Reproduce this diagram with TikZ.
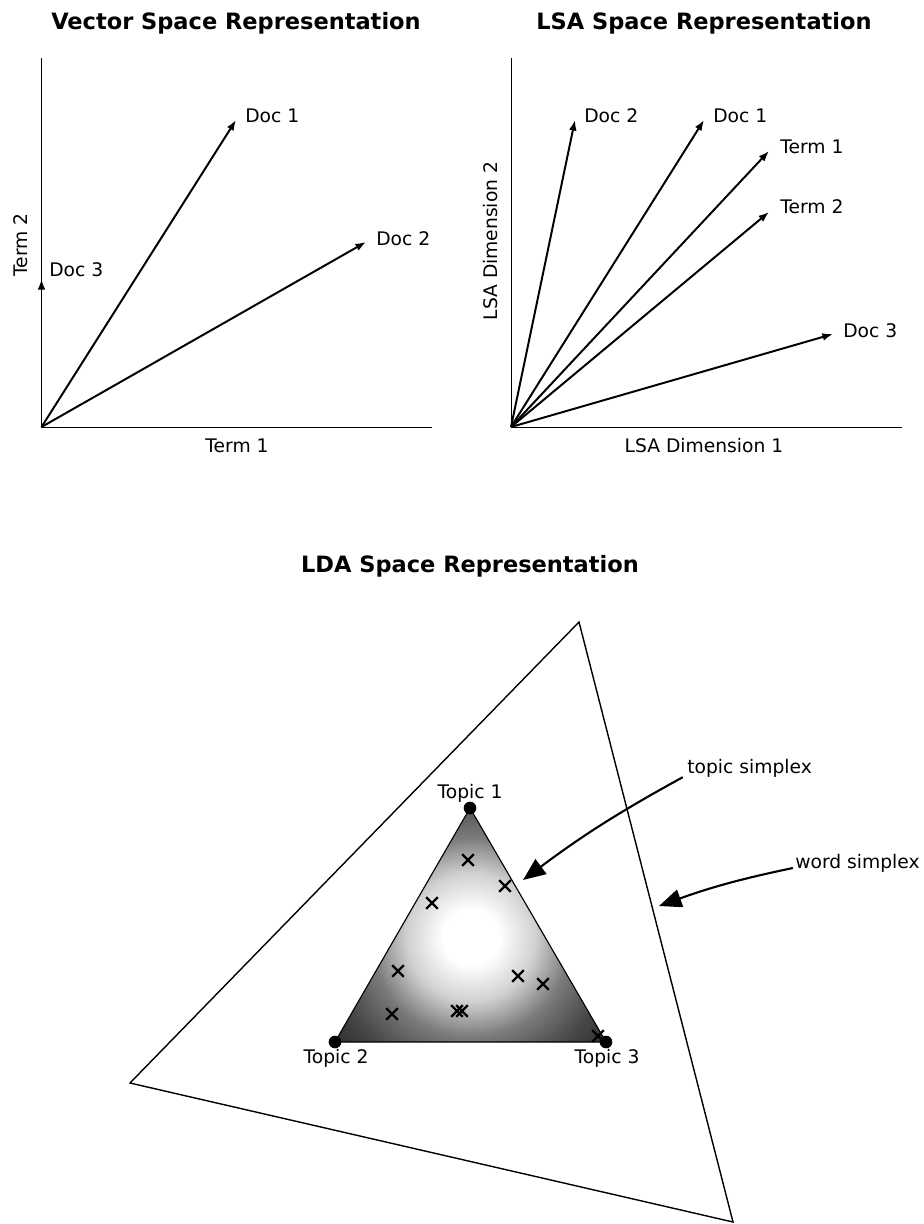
\documentclass[tikz,border=0pt]{standalone}
\usepackage{fontspec}
\setmainfont{DejaVu Sans}
\usetikzlibrary{positioning}
\usetikzlibrary{arrows.meta}
\usetikzlibrary{shapes.misc}

\pgfdeclareradialshading{simplexglow}{\pgfpoint{0bp}{0bp}}{color(0bp)=(white); color(3.5bp)=(white); color(8bp)=(black!18); color(12.5bp)=(black!52); color(17.5bp)=(black!72); color(22.5bp)=(black!84); color(50bp)=(black!85)}

\tikzset{
 lbl/.style={inner sep=0pt,font=\fontsize{13.3}{16}\selectfont},
 ttl/.style={inner sep=0pt,anchor=base,font=\fontsize{16}{19}\selectfont\bfseries},
 axisline/.style={line width=0.7pt},
 vec/.style={line width=1.4pt,-{Latex[length=7.5pt,width=5.5pt]}},
 callout/.style={line width=1.5pt,-{Triangle[length=16pt,width=13pt]}},
 xmark/.style={cross out,draw,line width=1.7pt,minimum size=6.5pt,inner sep=0pt},
 topicdot/.style={circle,fill=black,inner sep=0pt,minimum size=9pt}
}

\begin{document}
\begin{tikzpicture}[x=0.025cm,y=-0.025cm]
 \useasboundingbox (0,0) rectangle (924,1224);

 % vector space
 \node[ttl] (vtitle) at (236,29.5) {Vector Space Representation};
 \coordinate (vo) at (41.5,427);
 \coordinate (vy) at (41.5,58);
 \coordinate (vx) at (432,427);
 \draw[axisline] (vy) -- (vo) -- (vx);
 \node[lbl,anchor=base] (vxl) at (237,452) {Term 1};
 \node[lbl,anchor=base,rotate=90] (vyl) at (27,245) {Term 2};
 \coordinate (vd1) at (236,120);
 \coordinate (vd2) at (366,242);
 \coordinate (vd3) at (41.5,279);
 \draw[vec] (vo) -- (vd1);
 \draw[vec] (vo) -- (vd2);
 \draw[vec] (vo) -- (vd3);
 \node[lbl,anchor=base west] (vd1l) at (245,122) {Doc 1};
 \node[lbl,anchor=base west] (vd2l) at (376,245) {Doc 2};
 \node[lbl,anchor=base west] (vd3l) at (49,276) {Doc 3};

 % lsa space
 \node[ttl] (ltitle) at (704,29.5) {LSA Space Representation};
 \coordinate (lo) at (511,427);
 \coordinate (ly) at (511,58);
 \coordinate (lx) at (902,427);
 \draw[axisline] (ly) -- (lo) -- (lx);
 \node[lbl,anchor=base] (lxl) at (704,452) {LSA Dimension 1};
 \node[lbl,anchor=base,rotate=90] (lyl) at (497,241) {LSA Dimension 2};
 \coordinate (ld2) at (575,120);
 \coordinate (ld1) at (704,120);
 \coordinate (lt1) at (769,151);
 \coordinate (lt2) at (769,212);
 \coordinate (ld3) at (833,334);
 \foreach \p in {ld2,ld1,lt1,lt2,ld3}
  \draw[vec] (lo) -- (\p);
 \node[lbl,anchor=base west] (ld2l) at (584,122) {Doc 2};
 \node[lbl,anchor=base west] (ld1l) at (713,122) {Doc 1};
 \node[lbl,anchor=base west] (lt1l) at (780,153) {Term 1};
 \node[lbl,anchor=base west] (lt2l) at (780,213) {Term 2};
 \node[lbl,anchor=base west] (ld3l) at (843,337) {Doc 3};

 % lda space
 \node[ttl] (dtitle) at (470,572) {LDA Space Representation};
 \coordinate (w1) at (579,622);
 \coordinate (w2) at (130,1083);
 \coordinate (w3) at (733,1222);
 \draw[line width=1pt,line join=miter] (w1) -- (w2) -- (w3) -- cycle;
 \coordinate (c1) at (470,808);
 \coordinate (c2) at (335,1042);
 \coordinate (c3) at (606,1042);
 \begin{scope}
  \clip (c1) -- (c2) -- (c3) -- cycle;
  \shade[shading=simplexglow] (471,937) circle (200);
 \end{scope}
 \draw[line width=0.8pt] (c1) -- (c2) -- (c3) -- cycle;
 \foreach \x/\y [count=\i] in {468/860,505/886,432/903,398/971,518/976,543/984,392/1014,457/1011,462/1011,598/1036}
  \node[xmark] (m\i) at (\x,\y) {};
 \node[topicdot] (t1) at (c1) {};
 \node[topicdot] (t2) at (c2) {};
 \node[topicdot] (t3) at (c3) {};
 \node[lbl,anchor=base] (t1l) at (470,798) {Topic 1};
 \node[lbl,anchor=base] (t2l) at (336,1063) {Topic 2};
 \node[lbl,anchor=base] (t3l) at (607,1063) {Topic 3};
 \node[lbl,anchor=base west] (tsl) at (687,773) {topic simplex};
 \node[lbl,anchor=base west] (wsl) at (795,868) {word simplex};
 \coordinate (tstip) at (523,880);
 \coordinate (wstip) at (659,906);
 \draw[callout] ([xshift=-3pt]tsl.south west) to[bend right=4] (tstip);
 \draw[callout] ([xshift=-1.5pt]wsl.base west) to[bend right=4] (wstip);
\end{tikzpicture}
\end{document}
